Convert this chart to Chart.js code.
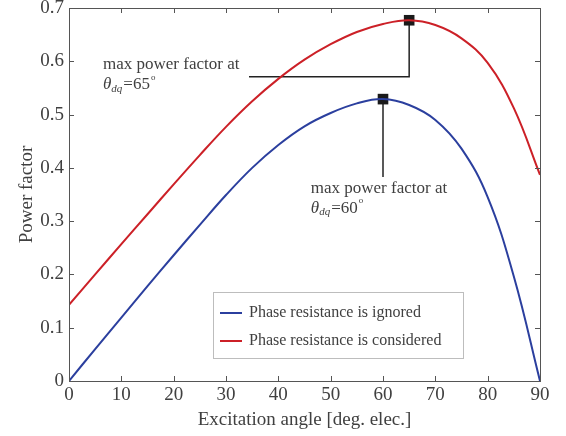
<!DOCTYPE html>
<html><head><meta charset="utf-8">
<script src="https://cdn.jsdelivr.net/npm/chart.js@4"></script>
<style>html,body{margin:0;padding:0;background:#fff}#wrap{width:566px;height:436px}</style>
</head><body><div id="wrap"><canvas id="c" width="566" height="436"></canvas></div>
<script>
// ---- data ----
const angles = [0,5,10,15,20,25,30,35,40,45,50,55,60,65,70,75,80,85,90];
const pfIgnored = [0,0.060,0.119,0.178,0.236,0.293,0.349,0.400,0.443,0.478,0.503,0.521,0.529,0.518,0.490,0.436,0.345,0.196,0];
const pfConsidered = [0.143,0.200,0.257,0.313,0.369,0.424,0.477,0.525,0.567,0.603,0.632,0.655,0.670,0.677,0.668,0.643,0.597,0.512,0.387];
const xTicks = [0,10,20,30,40,50,60,70,80,90];
const yTicks = [0,0.1,0.2,0.3,0.4,0.5,0.6,0.7];
const yTickLabels = ['0','0.1','0.2','0.3','0.4','0.5','0.6','0.7'];
const seriesLabels = ['Phase resistance is ignored','Phase resistance is considered'];
const maxIgnored = [{x:60, y:0.529}];
const maxConsidered = [{x:65, y:0.677}];
const maxIgnoredDeg = '60';
const maxConsideredDeg = '65';

const BLUE = '#2b3f9e', RED = '#cc2027', TXT = '#404040', AX = '#555555';
const SERIF = '"Liberation Serif", "Times New Roman", serif';

const toPts = (arr) => angles.map((a,i)=>({x:a, y:arr[i]}));

const decor = {
  id: 'decor',
  beforeDatasetsDraw(chart){
    const {ctx, scales:{x, y}} = chart;
    ctx.save();
    ctx.strokeStyle = '#222'; ctx.lineWidth = 1.5;
    ctx.beginPath();
    ctx.moveTo(x.getPixelForValue(maxConsidered[0].x), y.getPixelForValue(maxConsidered[0].y));
    ctx.lineTo(x.getPixelForValue(maxConsidered[0].x), y.getPixelForValue(0.571));
    ctx.lineTo(x.getPixelForValue(34.4), y.getPixelForValue(0.571));
    ctx.stroke();
    ctx.beginPath();
    ctx.moveTo(x.getPixelForValue(maxIgnored[0].x), y.getPixelForValue(maxIgnored[0].y));
    ctx.lineTo(x.getPixelForValue(maxIgnored[0].x), y.getPixelForValue(0.383));
    ctx.stroke();
    ctx.restore();
  },
  afterDatasetsDraw(chart){
    const {ctx, scales:{x, y}} = chart;
    const note = (px, py, deg) => {
      ctx.save();
      ctx.fillStyle = TXT; ctx.textBaseline = 'middle'; ctx.textAlign = 'left';
      ctx.font = '17px ' + SERIF;
      ctx.fillText('max power factor at', px, py);
      let cx = px; const ly = py + 20;
      ctx.font = 'italic 17px ' + SERIF;
      ctx.fillText('θ', cx, ly); cx += ctx.measureText('θ').width;
      ctx.font = 'italic 11px ' + SERIF;
      ctx.fillText('dq', cx, ly + 4); cx += ctx.measureText('dq').width + 1;
      ctx.font = '17px ' + SERIF;
      const s = '=' + deg;
      ctx.fillText(s, cx, ly); cx += ctx.measureText(s).width + 1;
      ctx.font = '9px ' + SERIF;
      ctx.fillText('o', cx, ly - 7);
      ctx.restore();
    };
    note(x.getPixelForValue(6.5), y.getPixelForValue(0.593), maxConsideredDeg);
    note(x.getPixelForValue(46.2), y.getPixelForValue(0.362), maxIgnoredDeg);
  },
  afterDraw(chart){
    const {ctx, chartArea:a, scales:{x, y}} = chart;
    ctx.save();
    ctx.strokeStyle = AX; ctx.lineWidth = 1;
    ctx.strokeRect(a.left + 0.5, a.top + 0.5, a.right - a.left, a.bottom - a.top);
    ctx.beginPath();
    const L = 5;
    xTicks.forEach(v => {
      const px = Math.round(x.getPixelForValue(v)) + 0.5;
      ctx.moveTo(px, a.bottom); ctx.lineTo(px, a.bottom - L);
      ctx.moveTo(px, a.top); ctx.lineTo(px, a.top + L);
    });
    yTicks.forEach(v => {
      const py = Math.round(y.getPixelForValue(v)) + 0.5;
      ctx.moveTo(a.left, py); ctx.lineTo(a.left + L, py);
      ctx.moveTo(a.right, py); ctx.lineTo(a.right - L, py);
    });
    ctx.stroke();
    // legend
    const lx = a.left + 144, ly = a.top + 284, lw = 250, lh = 66;
    ctx.fillStyle = '#fff';
    ctx.fillRect(lx, ly, lw, lh);
    ctx.strokeStyle = '#bdbdbd';
    ctx.strokeRect(lx + 0.5, ly + 0.5, lw, lh);
    ctx.font = '16px ' + SERIF; ctx.textBaseline = 'middle'; ctx.textAlign = 'left';
    const rows = [ly + 21, ly + 49];
    chart.data.datasets.slice(0,2).forEach((ds, i) => {
      ctx.strokeStyle = ds.borderColor; ctx.lineWidth = 2;
      ctx.beginPath(); ctx.moveTo(lx + 7, rows[i]); ctx.lineTo(lx + 29, rows[i]); ctx.stroke();
      ctx.fillStyle = TXT;
      ctx.fillText(ds.label, lx + 36, rows[i]);
    });
    ctx.restore();
  }
};

new Chart(document.getElementById('c'), {
  type: 'line',
  data: {
    datasets: [
      {label: seriesLabels[0], data: toPts(pfIgnored), borderColor: BLUE, borderWidth: 2, pointRadius: 0, tension: 0.4, fill: false},
      {label: seriesLabels[1], data: toPts(pfConsidered), borderColor: RED, borderWidth: 2, pointRadius: 0, tension: 0.4, fill: false},
      {label: 'maxI', data: maxIgnored, showLine: false, pointStyle: 'rect', pointRadius: 7.5, backgroundColor: '#1a1a1a', borderColor: '#1a1a1a', borderWidth: 0},
      {label: 'maxC', data: maxConsidered, showLine: false, pointStyle: 'rect', pointRadius: 7.5, backgroundColor: '#1a1a1a', borderColor: '#1a1a1a', borderWidth: 0}
    ]
  },
  options: {
    responsive: false, animation: false, devicePixelRatio: 1,
    layout: {padding: {top: 8, right: 26, left: 0, bottom: 0}},
    plugins: {legend: {display: false}, tooltip: {enabled: false}},
    scales: {
      x: {
        type: 'linear', min: 0, max: 90,
        afterFit: s => { s.height = 55; s.paddingLeft = 0; s.paddingRight = 0; },
        afterBuildTicks: s => { s.ticks = xTicks.map(v => ({value: v})); },
        grid: {display: false, drawTicks: false}, border: {display: false},
        ticks: {font: {family: SERIF, size: 19}, color: TXT, padding: 3, maxRotation: 0},
        title: {display: true, text: 'Excitation angle [deg. elec.]', font: {family: SERIF, size: 19}, color: TXT, padding: {top: 0, bottom: 5}}
      },
      y: {
        type: 'linear', min: 0, max: 0.7,
        afterFit: s => { s.width = 69; s.paddingTop = 0; s.paddingBottom = 0; },
        afterBuildTicks: s => { s.ticks = yTicks.map(v => ({value: v})); },
        grid: {display: false, drawTicks: false}, border: {display: false},
        ticks: {font: {family: SERIF, size: 19}, color: TXT, padding: 5, callback: (v) => yTickLabels[yTicks.findIndex(t => Math.abs(t - v) < 1e-9)]},
        title: {display: true, text: 'Power factor', font: {family: SERIF, size: 19}, color: TXT, padding: {top: 16, bottom: 0}}
      }
    }
  },
  plugins: [decor]
});
</script></body></html>
